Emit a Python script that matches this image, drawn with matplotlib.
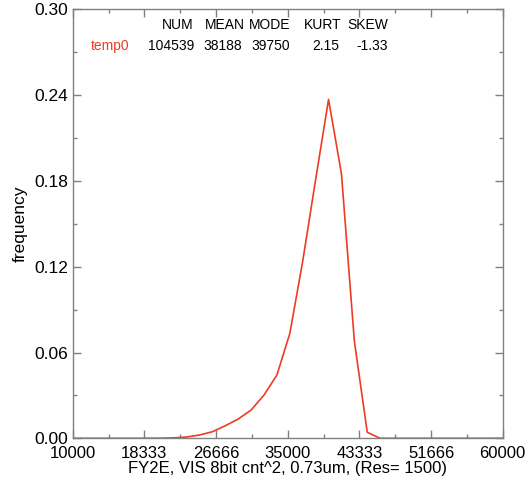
import matplotlib
matplotlib.use("Agg")
import matplotlib.pyplot as plt
from matplotlib.ticker import FixedLocator

plt.rcParams['font.family'] = ['Liberation Sans', 'DejaVu Sans']

# ---- data ----
bin_centers = [9750, 11250, 12750, 14250, 15750, 17250, 18750, 20250, 21750,
               23250, 24750, 26250, 27750, 29250, 30750, 32250, 33750, 35250,
               36750, 38250, 39750, 41250, 42750, 44250, 45750, 47250, 48750,
               50250, 51750, 53250, 54750, 56250, 57750, 59250, 60750]
frequency = [0.0, 0.0, 0.0, 0.0, 0.0, 0.0, 0.00005, 0.0001, 0.0003,
             0.0009, 0.0023, 0.0046, 0.0088, 0.0135, 0.0198, 0.0303, 0.0443, 0.0734,
             0.124, 0.181, 0.237, 0.185, 0.068, 0.0042, 0.0, 0.0, 0.0,
             0.0, 0.0, 0.0, 0.0, 0.0, 0.0, 0.0, 0.0]

x_ticks = [10000, 18333, 26666, 35000, 43333, 51666, 60000]
x_tick_labels = ["10000", "18333", "26666", "35000", "43333", "51666", "60000"]
y_ticks = [0.00, 0.06, 0.12, 0.18, 0.24, 0.30]
y_tick_labels = ["0.00", "0.06", "0.12", "0.18", "0.24", "0.30"]

stat_headers = ["NUM", "MEAN", "MODE", "KURT", "SKEW"]
series_name = "temp0"
stat_values = ["104539", "38188", "39750", "2.15", "-1.33"]

xlabel = "FY2E, VIS 8bit cnt^2, 0.73um, (Res= 1500)"
ylabel = "frequency"

line_color = "#ee3b24"

# ---- figure ----
W, H = 529, 484
fig = plt.figure(figsize=(W / 100, H / 100), dpi=100)
L, R, T, B = 72.7, 502.7, 9.3, 438.3
ax = fig.add_axes([L / W, 1 - B / H, (R - L) / W, (B - T) / H])

ax.plot(bin_centers, frequency, color=line_color, lw=1.2, clip_on=True)
ax.set_xlim(10000, 60000)
ax.set_ylim(0, 0.30)

ax.set_xticks(x_ticks)
ax.set_xticklabels(x_tick_labels)
ax.set_yticks(y_ticks)
ax.set_yticklabels(y_tick_labels)
xminor = [(a + b) / 2 for a, b in zip(x_ticks[:-1], x_ticks[1:])]
yminor = [(a + b) / 2 for a, b in zip(y_ticks[:-1], y_ticks[1:])]
ax.xaxis.set_minor_locator(FixedLocator(xminor))
ax.yaxis.set_minor_locator(FixedLocator(yminor))

spine_col = "#808080"
for s in ax.spines.values():
    s.set_color(spine_col)
    s.set_linewidth(1.0)
ax.tick_params(which='both', direction='in', top=True, right=True,
               color=spine_col, width=1.0, labelcolor='black')
ax.tick_params(axis='y', labelsize=12.5, pad=3)
ax.tick_params(axis='x', labelsize=12, pad=5.5)
ax.tick_params(which='major', length=6)
ax.tick_params(which='minor', length=3)

ax.set_xlabel(xlabel, fontsize=12, labelpad=0)
ax.set_ylabel(ylabel, fontsize=12.5, labelpad=5)

# ---- stats table ----
def fx(px):
    return (px - L) / (R - L)

def fy(py):
    return (B - py) / (B - T)

hdr_center = [178, 225, 270, 323, 367.5]
val_center = [171, 222.5, 271, 325.5, 372]
for h, xc in zip(stat_headers, hdr_center):
    ax.text(fx(xc), fy(25), h, transform=ax.transAxes, ha='center', va='center',
            fontsize=10, color='black')
ax.text(fx(91), fy(46), series_name, transform=ax.transAxes, ha='left', va='center',
        fontsize=10, color=line_color)
for v, xc in zip(stat_values, val_center):
    ax.text(fx(xc), fy(46), v, transform=ax.transAxes, ha='center', va='center',
            fontsize=10, color='black')

fig.savefig("out.png", dpi=100)
